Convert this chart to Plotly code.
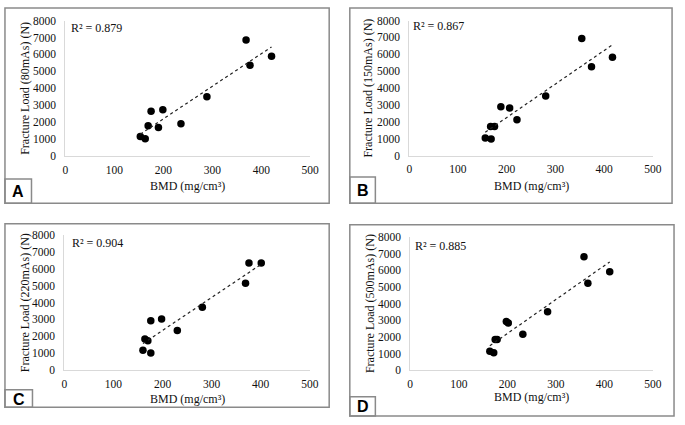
import numpy as np
import plotly.graph_objects as go

W, H = 685, 425

# ---- data ----
bmd_a = [153, 163, 169, 175, 190, 199, 236, 289, 369, 377, 421]
load_a = [1150, 1010, 1780, 2640, 1680, 2730, 1910, 3500, 6850, 5360, 5890]

bmd_b = [156, 168, 167, 175, 188, 206, 221, 280, 354, 374, 417]
load_b = [1040, 980, 1730, 1730, 2900, 2820, 2130, 3530, 6940, 5260, 5830]

bmd_c = [160, 176, 164, 170, 176, 198, 230, 281, 369, 376, 401]
load_c = [1160, 1000, 1830, 1730, 2910, 3020, 2330, 3720, 5150, 6360, 6360]

bmd_d = [164, 172, 175, 179, 198, 202, 232, 283, 358, 366, 411]
load_d = [1150, 1050, 1850, 1850, 2930, 2840, 2160, 3510, 6800, 5220, 5900]

panel_letters = ["A", "B", "C", "D"]
y_titles = ["Fracture Load (80mAs) (N)", "Fracture Load (150mAs) (N)",
            "Fracture Load (220mAs) (N)", "Fracture Load (500mAs) (N)"]
r2_labels = ["R² = 0.879", "R² = 0.867", "R² = 0.904", "R² = 0.885"]
x_title = "BMD (mg/cm³)"
x_ticks = [0, 100, 200, 300, 400, 500]
y_ticks = [0, 1000, 2000, 3000, 4000, 5000, 6000, 7000, 8000]

series = [(bmd_a, load_a), (bmd_b, load_b), (bmd_c, load_c), (bmd_d, load_d)]

# ---- layout geometry (pixels) ----
plot_px = [
    (63.5, 312.7, 15.0, 154.3),
    (413.5, 661.5, 15.0, 154.0),
    (62.5, 312.3, 236.0, 374.3),
    (414.5, 661.5, 237.5, 375.0),
]
frames = [(2, 2, 332, 203), (353, 2, 681, 203), (2, 224, 332, 413), (353, 225, 683, 422)]
label_boxes = [(2, 178, 29, 203), (353, 176, 379, 203), (2, 395, 30, 413), (353, 402, 379, 422)]
ytitle_x = [23, 372, 22, 373]
xtitle_y = [185.5, 185.5, 404.5, 402]
r2_pos = [(67, 22.5), (415.5, 21), (68.5, 243.5), (417.5, 247)]

def fx(px):
    return px / W

def fy(py):
    return 1 - py / H

SERIF = "Liberation Serif, Times New Roman, serif"
TXT = "#111111"
fig = go.Figure()
shapes = []
annotations = []

for i, (xs, ys) in enumerate(series):
    n = "" if i == 0 else str(i + 1)
    xa, ya = "x" + n, "y" + n
    x0, x1, yt, yb = plot_px[i]
    fig.add_trace(go.Scatter(x=xs, y=ys, mode="markers", xaxis=xa, yaxis=ya,
                             marker=dict(color="black", size=7.5), showlegend=False,
                             hoverinfo="x+y"))
    k, b = np.polyfit(xs, ys, 1)
    tx = np.array([min(xs), max(xs)])
    fig.add_trace(go.Scatter(x=tx, y=k * tx + b, mode="lines", xaxis=xa, yaxis=ya,
                             line=dict(color="#222222", width=1.2, dash="dot"),
                             showlegend=False, hoverinfo="skip"))
    axis_common = dict(showgrid=False, zeroline=False, showline=True,
                       linecolor="#d9d9d9", linewidth=1, ticks="",
                       tickfont=dict(family=SERIF, size=11.5, color=TXT))
    fig.layout["xaxis" + n] = dict(axis_common, domain=[fx(x0), fx(x1)], range=[0, 500],
                                   tickvals=x_ticks, anchor=ya, ticklabelstandoff=3)
    fig.layout["yaxis" + n] = dict(axis_common, domain=[fy(yb), fy(yt)], range=[0, 8000],
                                   tickvals=y_ticks, anchor=xa, ticklabelstandoff=6)
    fx0, fy0, fx1, fy1 = frames[i]
    shapes.append(dict(type="rect", xref="paper", yref="paper",
                       x0=fx(fx0), x1=fx(fx1), y0=fy(fy1), y1=fy(fy0),
                       line=dict(color="#8a8a8a", width=1.5)))
    lx0, ly0, lx1, ly1 = label_boxes[i]
    shapes.append(dict(type="rect", xref="paper", yref="paper",
                       x0=fx(lx0), x1=fx(lx1), y0=fy(ly1), y1=fy(ly0),
                       line=dict(color="#8a8a8a", width=1.5)))
    annotations.append(dict(text="<b>%s</b>" % panel_letters[i], xref="paper", yref="paper",
                            x=fx((lx0 + lx1) / 2), y=fy((ly0 + ly1) / 2 + 0.5),
                            xanchor="center", yanchor="middle", showarrow=False,
                            font=dict(family="Liberation Sans", size=16, color="black")))
    annotations.append(dict(text=y_titles[i], xref="paper", yref="paper", textangle=-90,
                            x=fx(ytitle_x[i]), y=fy((yt + yb) / 2), xanchor="center", yanchor="middle",
                            showarrow=False, font=dict(family=SERIF, size=12, color=TXT)))
    annotations.append(dict(text=x_title, xref="paper", yref="paper",
                            x=fx((x0 + x1) / 2), y=fy(xtitle_y[i]), xanchor="center", yanchor="middle",
                            showarrow=False, font=dict(family=SERIF, size=12, color=TXT)))
    rx, ry = r2_pos[i]
    annotations.append(dict(text=r2_labels[i], xref="paper", yref="paper",
                            x=fx(rx), y=fy(ry), xanchor="left", yanchor="middle",
                            showarrow=False, font=dict(family=SERIF, size=12, color=TXT)))

fig.update_layout(width=W, height=H, margin=dict(l=0, r=0, t=0, b=0),
                  paper_bgcolor="white", plot_bgcolor="white",
                  shapes=shapes, annotations=annotations)

fig.write_html("out.html", config={"displayModeBar": False},
               post_script="document.body.style.margin='0';")
